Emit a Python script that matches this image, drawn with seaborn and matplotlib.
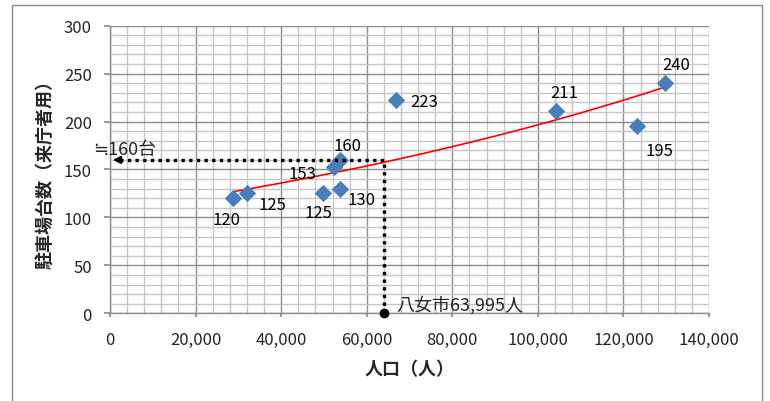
import numpy as np
import pandas as pd
import matplotlib
matplotlib.use("Agg")
import matplotlib.pyplot as plt
import seaborn as sns
from matplotlib.ticker import MultipleLocator, FuncFormatter
from matplotlib.patches import Rectangle

# === Data ===
population = [28680, 32050, 49700, 53850, 52350, 53700, 66820, 104250, 123260, 129660]
parking = [120, 125, 125, 130, 153, 160, 223, 211, 195, 240]
# label offsets in pixels (dx, dy) relative to each point
label_dx = [-6, 25, -4, 21, -32, 8, 28, 8, 22, 11]
label_dy = [-21, -11, -19, -11, -7, 14, -2, 19, -24, 19]

yame_pop = 63995
yame_est = 160

df = pd.DataFrame({"pop": population, "cars": parking})

# exponential trend line (as Excel does: least squares on ln y)
b, a = np.polyfit(df["pop"], np.log(df["cars"]), 1)
trend_x = np.linspace(df["pop"].min(), df["pop"].max(), 100)
trend_y = np.exp(a + b * trend_x)

# === Plot ===
sns.set_theme(style="white")
plt.rcParams["font.family"] = ["Noto Sans CJK JP", "DejaVu Sans"]

fig = plt.figure(figsize=(7.7, 4.02), dpi=100)
ax = fig.add_axes([0.1429, 0.2182, 0.7779, 0.7154])

# grid
ax.xaxis.set_major_locator(MultipleLocator(20000))
ax.xaxis.set_minor_locator(MultipleLocator(4000))
ax.yaxis.set_major_locator(MultipleLocator(50))
ax.yaxis.set_minor_locator(MultipleLocator(10))
ax.grid(which="minor", color="#c6c6c6", linewidth=1.0)
ax.grid(which="major", color="#8c8c8c", linewidth=1.0)
ax.set_axisbelow(True)

ax.plot(trend_x, trend_y, color="red", linewidth=1.2, zorder=2)

sns.scatterplot(data=df, x="pop", y="cars", marker="D", s=78, color="#4a7ebb",
                edgecolor="#4a7ebb", linewidth=0, ax=ax, zorder=3)

for x, y, dx, dy in zip(population, parking, label_dx, label_dy):
    ax.annotate(f"{y}", (x, y), xytext=(dx, dy), textcoords="offset pixels",
                ha="center", va="center", fontsize=12, color="black")

# dotted guide lines for Yame city
ax.plot([yame_pop, yame_pop, 1500], [0, yame_est, yame_est], linestyle=(0, (1, 1.3)),
        color="black", linewidth=2.4, zorder=4)
ax.annotate("", xy=(0, yame_est), xytext=(3500, yame_est),
            arrowprops=dict(arrowstyle="-|>", color="black", lw=1.5, mutation_scale=11),
            zorder=4)
ax.plot([yame_pop], [0], marker="o", color="black", markersize=6, clip_on=False, zorder=5)
ax.text(yame_pop + 3000, 9, f"八女市{yame_pop:,}人", fontsize=13, ha="left", va="center")
ax.text(-4000, 171, f"≒{yame_est}台", fontsize=13, ha="left", va="center")

ax.set_xlim(0, 140000)
ax.set_ylim(0, 300)
ax.xaxis.set_major_formatter(FuncFormatter(lambda v, p: f"{int(v):,}"))

for side in ["top", "right"]:
    ax.spines[side].set_visible(False)
for side in ["left", "bottom"]:
    ax.spines[side].set_color("#8c8c8c")
    ax.spines[side].set_linewidth(1.0)

ax.tick_params(axis="x", which="major", length=3, color="#8c8c8c", pad=10, labelsize=12, bottom=True)
ax.tick_params(axis="y", which="major", length=4, color="#8c8c8c", pad=9, labelsize=12, left=True)
ax.tick_params(which="minor", length=0)

ax.set_xlabel("人口（人）", fontsize=13, fontweight="bold", va="center")
ax.set_ylabel("駐車場台数（来庁者用）", fontsize=13, fontweight="bold", va="center")
ax.xaxis.set_label_coords(0.5, -0.194)
ax.yaxis.set_label_coords(-0.108, 0.5)

# chart area border
fig.patches.append(Rectangle((11.7 / 770, -0.05), 750 / 770, 1.035, transform=fig.transFigure,
                             fill=False, edgecolor="#8c8c8c", linewidth=1.0))

fig.savefig("out.png", dpi=100)
plt.close(fig)
